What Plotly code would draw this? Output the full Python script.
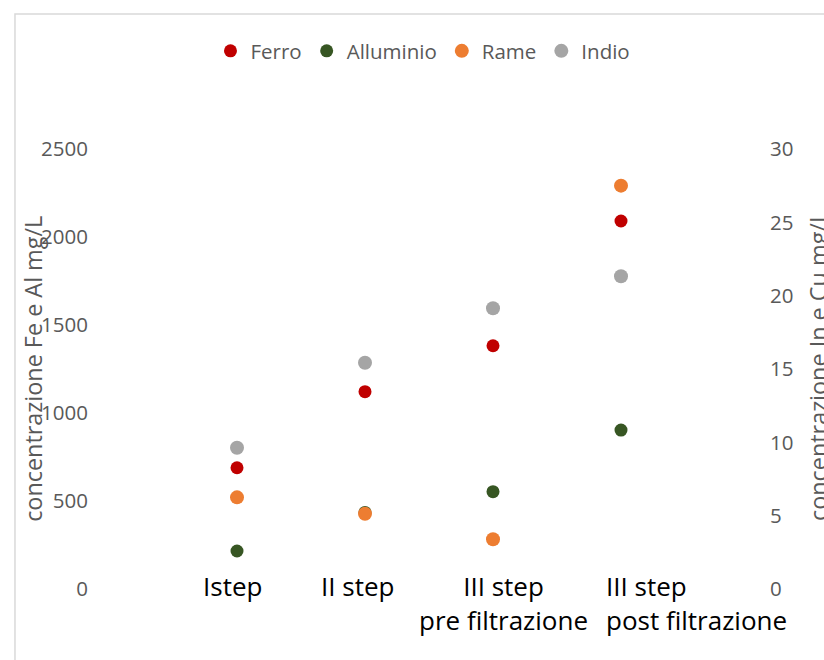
import plotly.graph_objects as go

# Process steps (category axis) and measured concentrations
categories = ["Istep", "II step", "III step<br>pre filtrazione", "III step<br>post filtrazione"]
ferro = [689, 1121, 1382, 2091]          # mg/L, left axis
alluminio = [216, 435, 553, 903]         # mg/L, left axis
rame = [6.25, 5.13, 3.39, 27.5]          # mg/L, right axis
indio = [9.63, 15.43, 19.14, 21.32]      # mg/L, right axis

left_ticks = [0, 500, 1000, 1500, 2000, 2500]
right_ticks = [0, 5, 10, 15, 20, 25, 30]

FONT = "Open Sans"
GREY_TXT = "#595959"

xpos = list(range(1, len(categories) + 1))

fig = go.Figure()
fig.add_trace(go.Scatter(x=xpos, y=ferro, mode="markers", name="Ferro",
                         marker=dict(color="#C00000", size=13), yaxis="y"))
fig.add_trace(go.Scatter(x=xpos, y=alluminio, mode="markers", name="Alluminio",
                         marker=dict(color="#375623", size=13), yaxis="y"))
fig.add_trace(go.Scatter(x=xpos, y=rame, mode="markers", name="Rame",
                         marker=dict(color="#ED7D31", size=14), yaxis="y2"))
fig.add_trace(go.Scatter(x=xpos, y=indio, mode="markers", name="Indio",
                         marker=dict(color="#A5A5A5", size=14), yaxis="y2"))

# Category labels under the points
label_shift = [-5, -8, 10, -17]
label_anchor = ["center", "center", "center", "left"]
annotations = []
for xi, txt, dx, anc in zip(xpos, categories, label_shift, label_anchor):
    annotations.append(dict(x=xi, y=0, xref="x", yref="paper", text=txt,
                            showarrow=False, xanchor=anc, yanchor="top",
                            align="left" if anc == "left" else "center",
                            xshift=dx, yshift=23,
                            font=dict(family=FONT, size=26, color="#000000")))

# Axis titles
annotations.append(dict(x=-0.119, y=0.5, xref="paper", yref="paper",
                        text="concentrazione Fe e Al mg/L", textangle=-90,
                        showarrow=False, xanchor="center", yanchor="middle",
                        font=dict(family=FONT, size=23.4, color=GREY_TXT)))
annotations.append(dict(x=1.108, y=0.507, xref="paper", yref="paper",
                        text="concentrazione In e Cu mg/L", textangle=-90,
                        showarrow=False, xanchor="center", yanchor="middle",
                        font=dict(family=FONT, size=23.4, color=GREY_TXT)))

fig.update_layout(
    width=824, height=660, autosize=False,
    margin=dict(l=109, r=75, t=149, b=71, pad=0),
    paper_bgcolor="white", plot_bgcolor="white",
    font=dict(family=FONT, color=GREY_TXT),
    showlegend=True,
    legend=dict(orientation="h", x=0.4906, xanchor="center", y=1.2227, yanchor="middle",
                font=dict(family=FONT, size=20.5, color=GREY_TXT),
                bgcolor="rgba(0,0,0,0)"),
    xaxis=dict(range=[0, 5], showticklabels=False, showgrid=False,
               zeroline=False, showline=False, ticks=""),
    yaxis=dict(range=[0, 2500], tickvals=left_ticks, showgrid=False,
               zeroline=False, showline=False, ticks="",
               ticklabelstandoff=20,
               tickfont=dict(family=FONT, size=20.5, color=GREY_TXT)),
    yaxis2=dict(range=[0, 30], tickvals=right_ticks, overlaying="y", side="right",
                showgrid=False, zeroline=False, showline=False, ticks="",
                ticklabelstandoff=20,
                tickfont=dict(family=FONT, size=20.5, color=GREY_TXT)),
    annotations=annotations,
    shapes=[dict(type="rect", xref="paper", yref="paper",
                 x0=-0.1469, x1=2.0, y0=-1.0, y1=1.3068,
                 line=dict(color="#D9D9D9", width=1.5), fillcolor="rgba(0,0,0,0)",
                 layer="below")],
)

fig.write_html("out.html")
